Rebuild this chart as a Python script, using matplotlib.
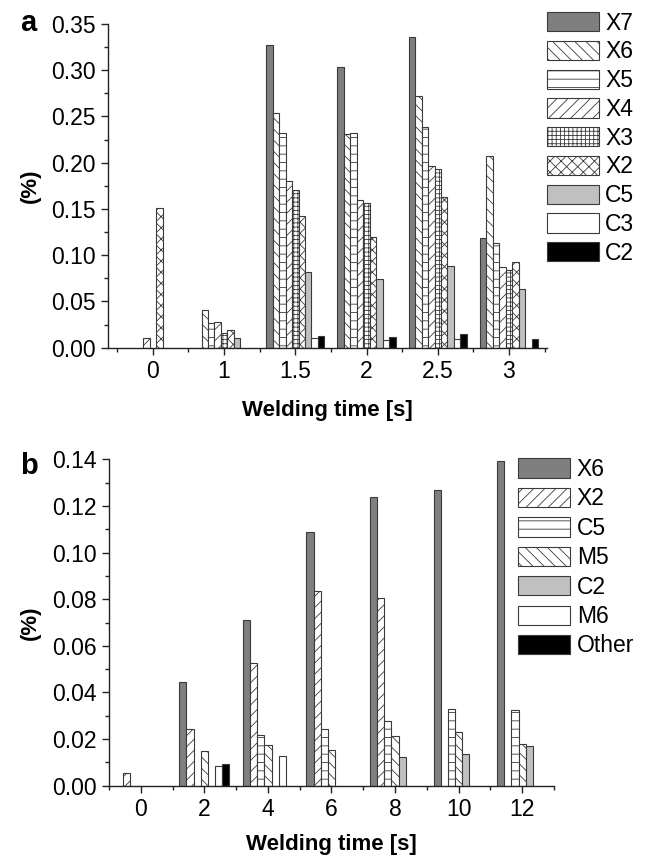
import numpy as np
import matplotlib
matplotlib.use("Agg")
import matplotlib.pyplot as plt
from matplotlib.ticker import MultipleLocator, FormatStrFormatter

plt.rcParams["font.family"] = ["Liberation Sans", "DejaVu Sans"]
plt.rcParams["hatch.linewidth"] = 0.6

# ---------------------- Data ----------------------
# panel a: welding time categories and species
times_a = ["0", "1", "1.5", "2", "2.5", "3"]
X7_a = [0.0, 0.0, 0.327, 0.304, 0.336, 0.119]
X6_a = [0.0, 0.041, 0.254, 0.231, 0.272, 0.207]
X5_a = [0.0, 0.027, 0.232, 0.232, 0.239, 0.113]
X4_a = [0.010, 0.028, 0.180, 0.160, 0.197, 0.087]
X3_a = [0.0, 0.016, 0.171, 0.156, 0.193, 0.084]
X2_a = [0.151, 0.019, 0.142, 0.120, 0.163, 0.093]
C5_a = [0.0, 0.011, 0.082, 0.074, 0.088, 0.063]
C3_a = [0.0, 0.0, 0.010, 0.008, 0.009, 0.0]
C2_a = [0.0, 0.0, 0.0125, 0.012, 0.015, 0.0094]
labels_a = ["X7", "X6", "X5", "X4", "X3", "X2", "C5", "C3", "C2"]

# panel b
times_b = ["0", "2", "4", "6", "8", "10", "12"]
X6_b = [0.0, 0.0444, 0.0711, 0.1087, 0.1238, 0.1268, 0.1393]
X2_b = [0.0055, 0.0243, 0.0525, 0.0833, 0.0806, 0.0, 0.0]
C5_b = [0.0, 0.0, 0.0218, 0.0245, 0.0277, 0.0330, 0.0325]
M5_b = [0.0, 0.0147, 0.0175, 0.0155, 0.0213, 0.0231, 0.0181]
C2_b = [0.0, 0.0, 0.0, 0.0, 0.0125, 0.0134, 0.0171]
M6_b = [0.0, 0.0085, 0.0128, 0.0, 0.0, 0.0, 0.0]
Other_b = [0.0, 0.0091, 0.0, 0.0, 0.0, 0.0, 0.0]
labels_b = ["X6", "X2", "C5", "M5", "C2", "M6", "Other"]

# ---------------------- Styles ----------------------
EDGE = "#3a3a3a"
styles_a = [
    dict(facecolor="#7f7f7f", hatch=None),
    dict(facecolor="white", hatch="\\\\\\"),
    dict(facecolor="white", hatch="--"),
    dict(facecolor="white", hatch="///"),
    dict(facecolor="white", hatch="++++"),
    dict(facecolor="white", hatch="xxx"),
    dict(facecolor="#c0c0c0", hatch=None),
    dict(facecolor="white", hatch=None),
    dict(facecolor="black", hatch=None),
]
styles_b = [
    dict(facecolor="#7f7f7f", hatch=None),
    dict(facecolor="white", hatch="///"),
    dict(facecolor="white", hatch="--"),
    dict(facecolor="white", hatch="\\\\\\"),
    dict(facecolor="#c0c0c0", hatch=None),
    dict(facecolor="white", hatch=None),
    dict(facecolor="black", hatch=None),
]


def _grouped(ax, series, labels, styles, group_w):
    n = len(series)
    w = group_w / n
    handles = []
    for i, (vals, lab, st) in enumerate(zip(series, labels, styles)):
        vals = np.asarray(vals, dtype=float)
        x = np.arange(len(vals)) - group_w / 2 + w * (i + 0.5)
        keep = vals > 0
        ax.bar(x[keep], vals[keep], width=w, edgecolor=EDGE, linewidth=0.8, **st)
        handles.append(plt.Rectangle((0, 0), 1, 1, edgecolor=EDGE, linewidth=0.8, **st))
    return handles


def _style_axes(ax, ncat, xlim, ylim, major, minor, tick_labels):
    ax.set_xlim(*xlim)
    ax.set_ylim(*ylim)
    for s in ("top", "right"):
        ax.spines[s].set_visible(False)
    for s in ("left", "bottom"):
        ax.spines[s].set_linewidth(1.0)
        ax.spines[s].set_color("#222222")
    ax.set_xticks(np.arange(ncat))
    ax.set_xticklabels(tick_labels)
    ax.set_xticks(np.arange(ncat + 1) - 0.5, minor=True)
    ax.yaxis.set_major_locator(MultipleLocator(major))
    ax.yaxis.set_minor_locator(MultipleLocator(minor))
    ax.yaxis.set_major_formatter(FormatStrFormatter("%.2f"))
    ax.tick_params(which="major", direction="out", length=5, width=1.0, labelsize=16.5,
                   color="#222222")
    ax.tick_params(which="minor", direction="out", length=3, width=1.0, color="#222222")
    ax.tick_params(axis="x", which="major", pad=4)
    ax.tick_params(axis="y", which="major", pad=4)


fig = plt.figure(figsize=(6.46, 8.59), dpi=100)
W, H = 646.0, 859.0

# ---------------------- Panel a ----------------------
ax1 = fig.add_axes([108 / W, 1 - 347.7 / H, (546.7 - 108) / W, 323.7 / H])
h_a = _grouped(ax1, [X7_a, X6_a, X5_a, X4_a, X3_a, X2_a, C5_a, C3_a, C2_a],
               labels_a, styles_a, 0.815)
_style_axes(ax1, len(times_a), (-0.63, len(times_a) - 0.47), (0, 0.35), 0.05, 0.025, times_a)
ax1.set_xlabel("Welding time [s]", fontsize=16, fontweight="bold")
ax1.xaxis.set_label_coords(0.5, -63 / 323.7)
ax1.xaxis.label.set_va("center")
ax1.set_ylabel("(%)", fontsize=16, fontweight="bold")
ax1.yaxis.set_label_coords(-78 / 438.7, 0.5)
ax1.yaxis.label.set_va("center")
fig.text(28 / W, 1 - 23 / H, "a", fontsize=21, fontweight="bold", ha="center", va="center")

fig.legend(h_a, labels_a, loc="upper left", bbox_to_anchor=(546.7 / W, 1 - 11.7 / H),
           frameon=False, fontsize=16.5, handlelength=2.27, handleheight=0.92,
           handletextpad=0.28, labelspacing=0.25, borderpad=0, borderaxespad=0)

# ---------------------- Panel b ----------------------
ax2 = fig.add_axes([109 / W, 1 - 785.7 / H, 445 / W, 326.4 / H])
h_b = _grouped(ax2, [X6_b, X2_b, C5_b, M5_b, C2_b, M6_b, Other_b],
               labels_b, styles_b, 0.79)
_style_axes(ax2, len(times_b), (-0.5, len(times_b) - 0.5), (0, 0.14), 0.02, 0.01, times_b)
ax2.set_xlabel("Welding time [s]", fontsize=16, fontweight="bold")
ax2.xaxis.set_label_coords(0.5, -59 / 326.4)
ax2.xaxis.label.set_va("center")
ax2.set_ylabel("(%)", fontsize=16, fontweight="bold")
ax2.yaxis.set_label_coords(-79 / 445, 0.5)
ax2.yaxis.label.set_va("center")
fig.text(29 / W, 1 - 466 / H, "b", fontsize=21, fontweight="bold", ha="center", va="center")

fig.legend(h_b, labels_b, loc="upper left", bbox_to_anchor=(518.3 / W, 1 - 458 / H),
           frameon=False, fontsize=16.5, handlelength=2.27, handleheight=0.92,
           handletextpad=0.28, labelspacing=0.28, borderpad=0, borderaxespad=0)

fig.savefig("out.png", dpi=100)
